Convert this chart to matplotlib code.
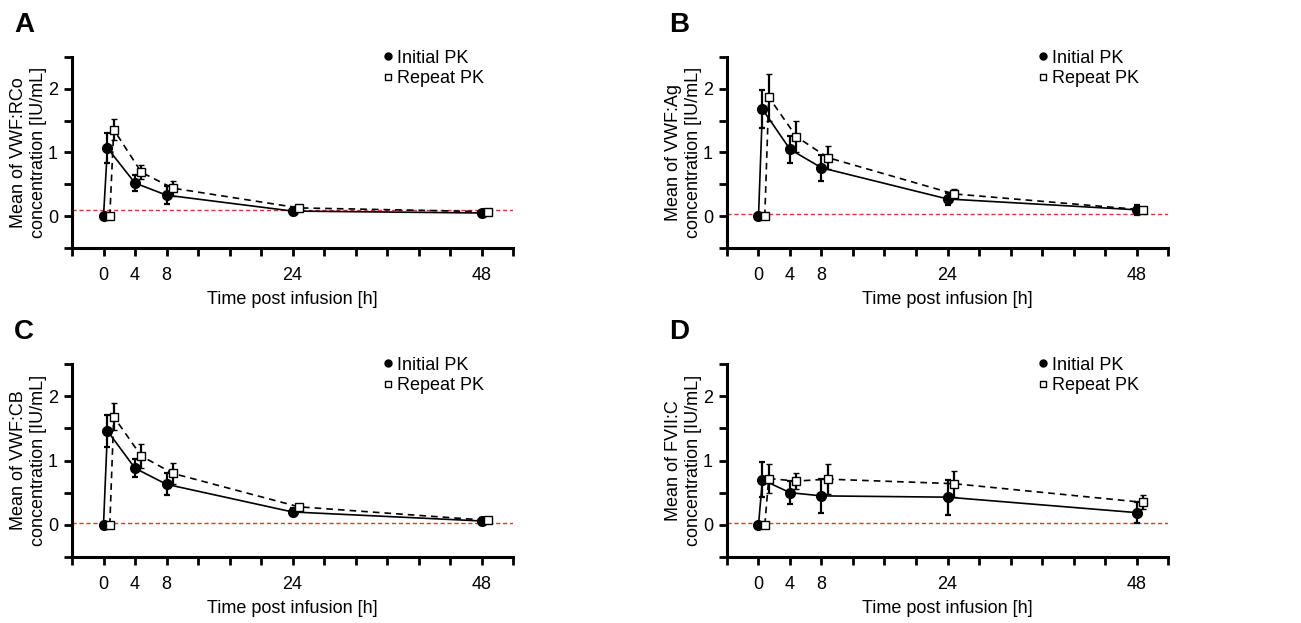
import matplotlib
matplotlib.use("Agg")
import matplotlib.pyplot as plt
from matplotlib.ticker import MultipleLocator

plt.rcParams['font.family'] = ['Liberation Sans', 'DejaVu Sans']

# sampling times [h]
times = [0, 0.5, 4, 8, 24, 48]
repeat_shift = 0.8  # repeat PK drawn slightly to the right

panel_letters = ['A', 'B', 'C', 'D']
ylabels = ['Mean of VWF:RCo\nconcentration [IU/mL]',
           'Mean of VWF:Ag\nconcentration [IU/mL]',
           'Mean of VWF:CB\nconcentration [IU/mL]',
           'Mean of FVII:C\nconcentration [IU/mL]']
lloq = [0.10, 0.03, 0.03, 0.03]

# means and SDs
rco_init = [0, 1.07, 0.52, 0.33, 0.08, 0.05]
rco_init_sd = [0, 0.23, 0.12, 0.14, 0.06, 0.03]
rco_rep = [0, 1.36, 0.69, 0.44, 0.13, 0.07]
rco_rep_sd = [0, 0.16, 0.11, 0.12, 0.04, 0.02]

ag_init = [0, 1.68, 1.05, 0.76, 0.27, 0.10]
ag_init_sd = [0, 0.30, 0.21, 0.20, 0.10, 0.08]
ag_rep = [0, 1.87, 1.25, 0.92, 0.35, 0.10]
ag_rep_sd = [0, 0.37, 0.24, 0.18, 0.07, 0.03]

cb_init = [0, 1.46, 0.88, 0.63, 0.20, 0.06]
cb_init_sd = [0, 0.25, 0.14, 0.17, 0.06, 0.05]
cb_rep = [0, 1.68, 1.07, 0.80, 0.28, 0.07]
cb_rep_sd = [0, 0.21, 0.18, 0.16, 0.05, 0.02]

f7_init = [0, 0.70, 0.50, 0.45, 0.43, 0.19]
f7_init_sd = [0, 0.27, 0.18, 0.26, 0.27, 0.16]
f7_rep = [0, 0.72, 0.68, 0.71, 0.64, 0.35]
f7_rep_sd = [0, 0.22, 0.12, 0.23, 0.20, 0.11]

series = [(rco_init, rco_init_sd, rco_rep, rco_rep_sd),
          (ag_init, ag_init_sd, ag_rep, ag_rep_sd),
          (cb_init, cb_init_sd, cb_rep, cb_rep_sd),
          (f7_init, f7_init_sd, f7_rep, f7_rep_sd)]

fig = plt.figure(figsize=(13.01, 6.23), dpi=100)
W, H = 1301, 623
boxes = [(72, 57, 513, 248), (727, 57, 1168, 248),
         (72, 364, 513, 557), (727, 364, 1168, 557)]

fs = 13
for i, (l, t, r, b) in enumerate(boxes):
    ax = fig.add_axes([l / W, 1 - b / H, (r - l) / W, (b - t) / H])
    init, init_sd, rep, rep_sd = series[i]
    t_rep = [x + repeat_shift for x in times]

    ax.axhline(lloq[i], color='#e0332f', lw=1.0, ls=(0, (3, 2)), zorder=1)

    ax.errorbar(times, init, yerr=init_sd, color='black', lw=1.2,
                marker='o', ms=7, mfc='black', mec='black',
                elinewidth=1.6, capsize=2.5, capthick=1.6, zorder=3)
    ax.errorbar(t_rep, rep, yerr=rep_sd, color='black', lw=1.2, ls=(0, (4, 3)),
                marker='s', ms=5.5, mfc='white', mec='black', mew=1.0,
                elinewidth=1.6, capsize=2.5, capthick=1.6, zorder=4)

    # legend with markers only
    h1, = ax.plot([], [], 'o', color='black', ms=5)
    h2, = ax.plot([], [], 's', mfc='white', mec='black', ms=5, mew=1.0)
    ax.legend([h1, h2], ['Initial PK', 'Repeat PK'], loc='upper right',
              bbox_to_anchor=(0.955, 1.085), frameon=False, fontsize=fs,
              handlelength=0.5, handletextpad=0.25, labelspacing=0.2,
              borderpad=0)

    ax.set_xlim(-4, 52)
    ax.set_ylim(-0.5, 2.5)
    ax.xaxis.set_major_locator(MultipleLocator(4))
    ax.xaxis.set_major_formatter(
        plt.FuncFormatter(lambda v, p: f'{int(round(v))}' if int(round(v)) in (0, 4, 8, 24, 48) else ''))
    ax.yaxis.set_major_locator(MultipleLocator(0.5))
    ax.yaxis.set_major_formatter(
        plt.FuncFormatter(lambda v, p: f'{int(round(v))}' if abs(v - round(v)) < 1e-6 and v >= 0 else ''))
    ax.tick_params(axis='both', direction='out', length=6, width=2,
                   labelsize=fs)
    ax.tick_params(axis='x', pad=8)
    ax.tick_params(axis='y', pad=4)
    for s in ['top', 'right']:
        ax.spines[s].set_visible(False)
    for s in ['left', 'bottom']:
        ax.spines[s].set_linewidth(2.2)

    ax.set_xlabel('Time post infusion [h]', fontsize=fs, labelpad=5)
    ax.set_ylabel(ylabels[i], fontsize=fs, labelpad=1, linespacing=1.22)

    fig.text((l - 58) / W, 1 - (t - 32) / H, panel_letters[i], fontsize=20,
             fontweight='bold', va='center', ha='left')

fig.savefig('out.png', dpi=100)
